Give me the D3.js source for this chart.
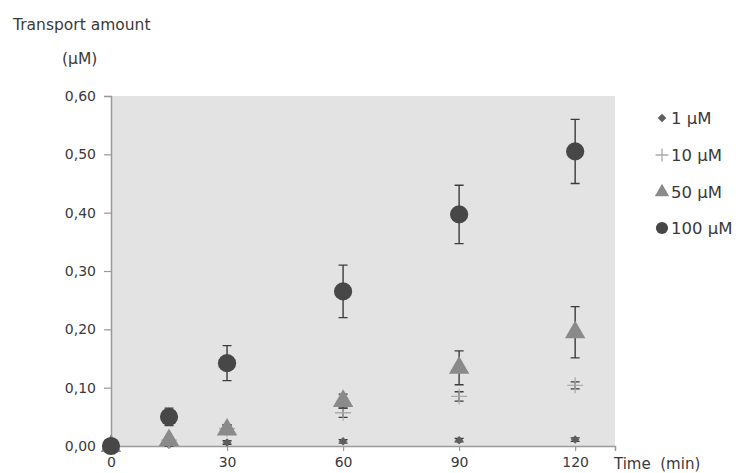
<!DOCTYPE html>
<html>
<head>
<meta charset="utf-8">
<script src="https://cdnjs.cloudflare.com/ajax/libs/d3/7.8.5/d3.min.js"></script>
<style>
  body { margin: 0; background: #fff; }
  text { font-family: "DejaVu Sans", sans-serif; fill: #3a3a3a; }
</style>
</head>
<body>
<svg id="chart" width="740" height="473"></svg>
<script>
// sampling times (min)
var times = [0, 15, 30, 60, 90, 120];
var xTicks = [0, 30, 60, 90, 120];
var yTicks = [0, 0.1, 0.2, 0.3, 0.4, 0.5, 0.6];

// transport amount (µM) and error, per concentration
var conc1 = [0, 0.002, 0.006, 0.008, 0.010, 0.011];
var err1 = [0, 0.002, 0.003, 0.003, 0.003, 0.003];
var conc10 = [0, 0.010, 0.030, 0.057, 0.085, 0.104];
var err10 = [0, 0.004, 0.006, 0.008, 0.008, 0.006];
var conc50 = [0, 0.010, 0.028, 0.077, 0.134, 0.195];
var err50 = [0, 0.004, 0.008, 0.012, 0.029, 0.044];
var conc100 = [0, 0.050, 0.142, 0.265, 0.397, 0.505];
var err100 = [0, 0.015, 0.030, 0.045, 0.050, 0.055];

var seriesNames = ["1 µM", "10 µM", "50 µM", "100 µM"];

var svg = d3.select("#chart");
var pLeft = 111, pRight = 615, pTop = 96, pBottom = 446;

var x = d3.scaleLinear().domain([0, 130.3]).range([pLeft, pRight]);
var y = d3.scaleLinear().domain([0, 0.6]).range([pBottom, pTop]);

// plot background
svg.append("rect")
  .attr("x", pLeft).attr("y", pTop)
  .attr("width", pRight - pLeft).attr("height", pBottom - pTop)
  .attr("fill", "#e3e3e3");

// axes
var yAxis = svg.append("g")
  .attr("transform", "translate(" + pLeft + ",0)")
  .call(d3.axisLeft(y).tickValues(yTicks).tickSize(7).tickPadding(8)
    .tickFormat(function(d) { return d3.format(".2f")(d).replace(".", ","); }));
var xAxis = svg.append("g")
  .attr("transform", "translate(0," + pBottom + ")")
  .call(d3.axisBottom(x).tickValues(xTicks).tickSize(5).tickPadding(6)
    .tickFormat(d3.format("d")));

[yAxis, xAxis].forEach(function(g) {
  g.select(".domain").attr("stroke", "#9a9a9a").attr("stroke-width", 1.5);
  g.selectAll(".tick line").attr("stroke", "#9a9a9a").attr("stroke-width", 1.2);
  g.selectAll(".tick text").style("font-size", "14px")
    .style("font-family", "'DejaVu Sans', sans-serif").attr("fill", "#3a3a3a");
});

// titles
svg.append("text").attr("x", 13).attr("y", 30).style("font-size", "15.5px").text("Transport amount");
svg.append("text").attr("x", 62).attr("y", 64).style("font-size", "15.5px").text("(µM)");
svg.append("text").attr("x", 614).attr("y", 469).style("font-size", "15px")
  .style("white-space", "pre").text("Time  (min)");

var series = [
  { name: seriesNames[0], vals: conc1, errs: err1, type: "diamond", size: 36, fill: "#5e5e5e", stroke: null },
  { name: seriesNames[1], vals: conc10, errs: err10, type: "plus", size: 0, fill: "none", stroke: "#ababab" },
  { name: seriesNames[2], vals: conc50, errs: err50, type: d3.symbolTriangle, size: 180, fill: "#8a8a8a", stroke: null },
  { name: seriesNames[3], vals: conc100, errs: err100, type: d3.symbolCircle, size: 260, fill: "#474747", stroke: null }
];

function drawMarker(g, s, cx, cy, scale) {
  scale = scale || 1;
  if (s.type === "plus") {
    var h = 8 * scale;
    g.append("path")
      .attr("d", "M" + (cx - h) + "," + cy + "H" + (cx + h) + "M" + cx + "," + (cy - h) + "V" + (cy + h))
      .attr("stroke", s.stroke).attr("stroke-width", 1.3).attr("fill", "none");
  } else if (s.type === "diamond") {
    g.append("path")
      .attr("transform", "translate(" + cx + "," + cy + ") rotate(45)")
      .attr("d", d3.symbol().type(d3.symbolSquare).size(s.size * scale)())
      .attr("fill", s.fill);
  } else {
    g.append("path")
      .attr("transform", "translate(" + cx + "," + cy + ")")
      .attr("d", d3.symbol().type(s.type).size(s.size * scale)())
      .attr("fill", s.fill);
  }
}

series.forEach(function(s) {
  var g = svg.append("g");
  times.forEach(function(t, i) {
    var cx = x(t), cy = y(s.vals[i]);
    var e = s.errs[i];
    if (e > 0) {
      var y1 = y(s.vals[i] + e), y0 = y(s.vals[i] - e);
      g.append("path")
        .attr("d", "M" + cx + "," + y1 + "V" + y0 +
          "M" + (cx - 4.5) + "," + y1 + "H" + (cx + 4.5) +
          "M" + (cx - 4.5) + "," + y0 + "H" + (cx + 4.5))
        .attr("stroke", "#3c3c3c").attr("stroke-width", 1.4).attr("fill", "none");
    }
    drawMarker(g, s, cx, cy);
  });
});

// legend
var legY = [118, 155, 192, 228];
series.forEach(function(s, i) {
  var g = svg.append("g");
  var sc = [1, 0.8, 0.5, 0.45][i];
  drawMarker(g, s, 662, legY[i], sc);
  g.append("text").attr("x", 671).attr("y", legY[i] + 6)
    .style("font-size", "16.5px").text(s.name);
});
</script>
</body>
</html>
